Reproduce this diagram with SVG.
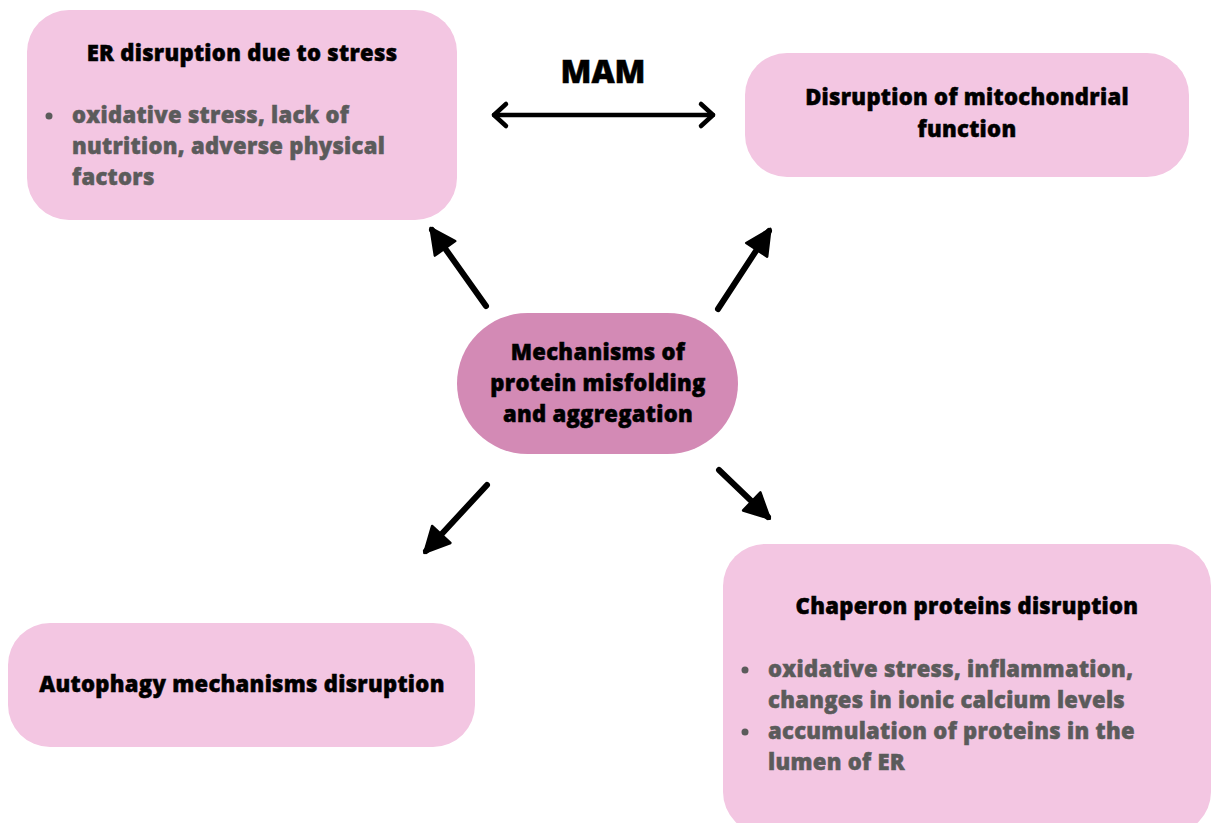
<svg xmlns="http://www.w3.org/2000/svg" width="1211" height="823" viewBox="0 0 1211 823">
<style>
.box{fill:#f3c6e2;}
.center{fill:#d38ab5;}
.t{font-family:"Open Sans","Liberation Sans",sans-serif;font-weight:800;font-size:22px;letter-spacing:0.3px;fill:#000;stroke:#000;stroke-width:0.5;}
.b{font-family:"Open Sans","Liberation Sans",sans-serif;font-weight:800;font-size:22px;letter-spacing:0.3px;fill:#5b5b5b;stroke:#5b5b5b;stroke-width:0.5;}
.mam{font-family:"Open Sans","Liberation Sans",sans-serif;font-weight:800;font-size:32px;fill:#000;stroke:#000;stroke-width:0.5;}
.arr{stroke:#000;stroke-width:6;fill:none;stroke-linecap:round;}
.dbl{stroke:#000;stroke-width:4.5;fill:none;stroke-linecap:round;stroke-linejoin:round;}
</style>
<defs>
<marker id="head" markerUnits="userSpaceOnUse" markerWidth="30" markerHeight="30" viewBox="0 0 24 24" refX="20" refY="12" orient="auto">
<path d="M2,2 L22,12 L2,22 Z" fill="#000" stroke="#000" stroke-width="2" stroke-linejoin="round"/>
</marker>
</defs>
<rect width="1211" height="823" fill="#fff"/>
<g id="er-node">
<rect class="box" x="27" y="10" width="430" height="210" rx="42"/>
<text class="t" x="242" y="61" text-anchor="middle">ER disruption due to stress</text>
<circle cx="49" cy="116" r="3.5" fill="#5b5b5b"/>
<text class="b" x="72" y="123">oxidative stress, lack of</text>
<text class="b" x="72" y="154">nutrition, adverse physical</text>
<text class="b" x="72" y="185">factors</text>
</g>
<g id="mito-node">
<rect class="box" x="745" y="53" width="444" height="124" rx="42"/>
<text class="t" x="967" y="105" text-anchor="middle">Disruption of mitochondrial</text>
<text class="t" x="967" y="137" text-anchor="middle">function</text>
</g>
<g id="center-node">
<rect class="center" x="457" y="313" width="281" height="141" rx="70.5"/>
<text class="t" x="598" y="360" text-anchor="middle">Mechanisms of</text>
<text class="t" x="598" y="391" text-anchor="middle">protein misfolding</text>
<text class="t" x="598" y="422" text-anchor="middle">and aggregation</text>
</g>
<g id="chaperon-node">
<rect class="box" x="723" y="544" width="488" height="290" rx="42"/>
<text class="t" x="967" y="614" text-anchor="middle">Chaperon proteins disruption</text>
<circle cx="745" cy="670" r="3.5" fill="#5b5b5b"/>
<text class="b" x="768" y="677">oxidative stress, inflammation,</text>
<text class="b" x="768" y="708">changes in ionic calcium levels</text>
<circle cx="745" cy="732" r="3.5" fill="#5b5b5b"/>
<text class="b" x="768" y="739">accumulation of proteins in the</text>
<text class="b" x="768" y="770">lumen of ER</text>
</g>
<g id="autophagy-node">
<rect class="box" x="8" y="623" width="467" height="124" rx="42"/>
<text class="t" x="242" y="692" text-anchor="middle">Autophagy mechanisms disruption</text>
</g>
<g id="mam-label">
<text class="mam" x="603" y="83" text-anchor="middle">MAM</text>
</g>
<g id="connectors">
<line class="dbl" x1="494" y1="115" x2="713" y2="115"/>
<polyline class="dbl" points="506,104 494,115 506,126"/>
<polyline class="dbl" points="701,104 713,115 701,126"/>
<line class="arr" x1="486" y1="306" x2="432" y2="230" marker-end="url(#head)"/>
<line class="arr" x1="718" y1="309" x2="769" y2="231" marker-end="url(#head)"/>
<line class="arr" x1="487" y1="485" x2="426" y2="551" marker-end="url(#head)"/>
<line class="arr" x1="719" y1="470" x2="768" y2="517" marker-end="url(#head)"/>
</g>
</svg>
